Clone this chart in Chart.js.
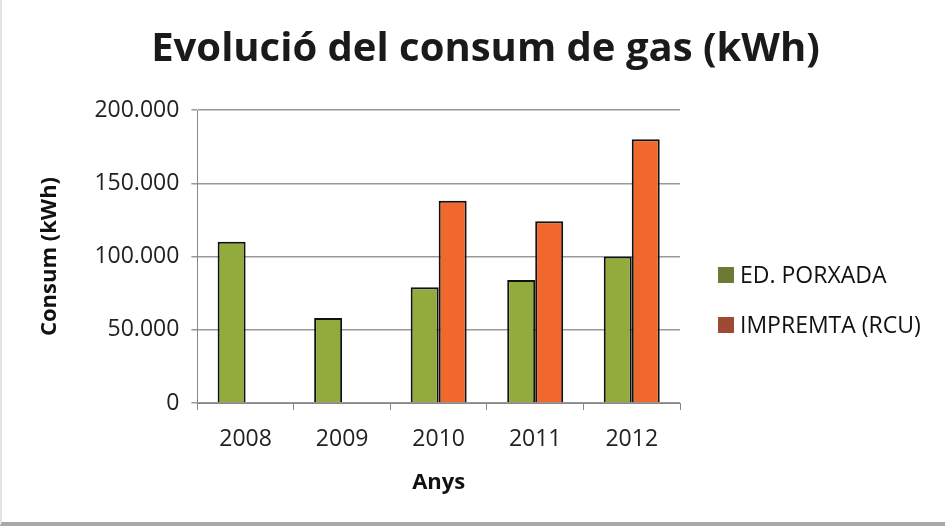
<!DOCTYPE html>
<html>
<head>
<meta charset="utf-8">
<script src="https://cdn.jsdelivr.net/npm/chart.js@4"></script>
<style>
  html, body { margin: 0; padding: 0; background: #fff; }
  #wrap { position: relative; width: 945px; height: 526px; box-sizing: border-box;
          border-left: 2px solid #e4e4e4; border-bottom: 4px solid #a8a8a8; }
</style>
</head>
<body>
<div id="wrap"><canvas id="gasChart"></canvas></div>
<script>
const years = ["2008", "2009", "2010", "2011", "2012"];
const porxada = [110000, 58000, 79000, 84000, 100000];
const impremta = [null, null, 138000, 124000, 180000];
const seriesNames = ["ED. PORXADA", "IMPREMTA (RCU)"];
const chartTitle = "Evolució del consum de gas (kWh)";
const barColors = ["#92ab3c", "#f0682c"];
const legendColors = ["#6b7a35", "#a04a35"];

// thousands separator as a dot: 150000 -> "150.000"
const fmt = v => String(v).replace(/\B(?=(\d{3})+(?!\d))/g, ".");

// title across the whole canvas and the legend beside the plot
const headerAndLegend = {
  id: "headerAndLegend",
  afterDraw(chart) {
    const c = chart.ctx;
    const area = chart.chartArea;
    c.save();
    c.textBaseline = "middle";
    c.textAlign = "center";
    c.fillStyle = "#1a1a1a";
    c.font = "bold 40px 'Open Sans'";
    c.fillText(chartTitle, chart.width / 2 + 12, 50);

    c.textAlign = "left";
    c.font = "23px 'Open Sans'";
    const x = area.right + 38;
    chart.data.datasets.forEach((ds, i) => {
      const y = area.top + 165 + i * 50;
      c.fillStyle = legendColors[i];
      c.fillRect(x, y - 8, 16, 16);
      c.fillStyle = "#111";
      c.fillText(ds.label, x + 22, y + 1);
    });
    c.restore();
  }
};

const ctx = document.getElementById("gasChart").getContext("2d");
new Chart(ctx, {
  type: "bar",
  data: {
    labels: years,
    datasets: [
      { label: seriesNames[0], data: porxada, backgroundColor: barColors[0], borderColor: "#111", borderWidth: 2 },
      { label: seriesNames[1], data: impremta, backgroundColor: barColors[1], borderColor: "#111", borderWidth: 2 }
    ]
  },
  options: {
    responsive: true,
    maintainAspectRatio: false,
    animation: false,
    categoryPercentage: 0.58,
    barPercentage: 1,
    layout: { padding: { left: 35, right: 265, top: 110, bottom: 26 } },
    plugins: {
      title: { display: false },
      legend: { display: false },
      tooltip: { enabled: false }
    },
    scales: {
      x: {
        grid: { display: true, drawOnChartArea: false, drawTicks: true, tickLength: 7, color: "#888", offset: true },
        border: { color: "#888" },
        ticks: { color: "#222", font: { family: "Open Sans", size: 23 }, padding: 16 },
        title: { display: true, text: "Anys", color: "#111", font: { family: "Open Sans", size: 22, weight: "bold" }, padding: { top: 0, bottom: 0 } }
      },
      y: {
        min: 0,
        max: 200000,
        ticks: { stepSize: 50000, color: "#222", font: { family: "Open Sans", size: 23 }, padding: 12, callback: v => fmt(v) },
        grid: { color: "#999", lineWidth: 1.5, drawTicks: true, tickLength: 6 },
        border: { color: "#888", display: true },
        title: { display: true, text: "Consum (kWh)", color: "#111", font: { family: "Open Sans", size: 22, weight: "bold" }, padding: { top: 0, bottom: 19 } }
      }
    }
  },
  plugins: [headerAndLegend]
});
</script>
</body>
</html>
